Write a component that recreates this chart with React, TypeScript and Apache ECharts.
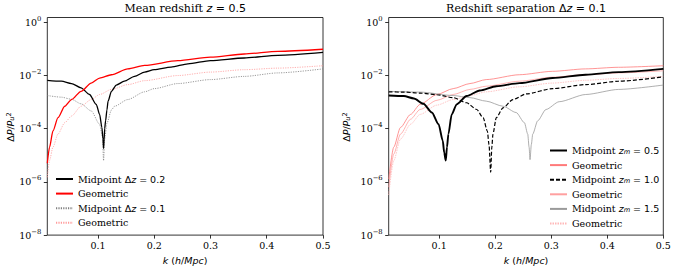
import React, { useEffect, useRef } from "react";
import * as echarts from "echarts";

// ---------- axis ticks ----------
const xTickValues = [0.1, 0.2, 0.3, 0.4, 0.5];
const yTickValues = [1e-8, 1e-6, 1e-4, 1e-2, 1];

// ---------- left panel: mean redshift z = 0.5 ----------
const kMid02 = [0.01, 0.035, 0.053, 0.07, 0.085, 0.097, 0.103, 0.107, 0.109, 0.11, 0.111, 0.112, 0.1136, 0.116, 0.118, 0.124, 0.1326, 0.147, 0.165, 0.183, 0.2, 0.23, 0.26, 0.3, 0.36, 0.42, 0.5];
const pMid02 = [6.5e-3, 6.0e-3, 4.9e-3, 3.4e-3, 1.9e-3, 8.1e-4, 3.4e-4, 1.1e-4, 4.0e-5, 1.8e-5, 4.0e-5, 1.0e-4, 1.95e-4, 5.0e-4, 1.07e-3, 2.5e-3, 4.3e-3, 6.0e-3, 9.1e-3, 1.32e-2, 1.62e-2, 2.04e-2, 2.7e-2, 3.55e-2, 4.47e-2, 5.6e-2, 7.2e-2];

const kGeo02 = [0.01, 0.014, 0.02, 0.029, 0.041, 0.053, 0.07, 0.088, 0.103, 0.124, 0.153, 0.183, 0.242, 0.3, 0.36, 0.42, 0.5];
const pGeo02 = [5.0e-6, 2.0e-5, 8.1e-5, 2.57e-4, 6.9e-4, 1.23e-3, 2.5e-3, 5.1e-3, 7.9e-3, 1.05e-2, 1.74e-2, 2.34e-2, 3.55e-2, 4.8e-2, 6.3e-2, 7.9e-2, 9.5e-2];

const kMid01 = [0.01, 0.035, 0.053, 0.07, 0.088, 0.103, 0.108, 0.11, 0.112, 0.116, 0.124, 0.1296, 0.153, 0.183, 0.2, 0.242, 0.3, 0.36, 0.42, 0.5];
const pMid01 = [1.74e-3, 1.51e-3, 1.26e-3, 8.5e-4, 4.6e-4, 1.45e-4, 5.0e-5, 6.3e-6, 4.0e-5, 1.6e-4, 5.0e-4, 6.9e-4, 1.23e-3, 2.4e-3, 3.16e-3, 4.9e-3, 6.9e-3, 9.1e-3, 1.23e-2, 1.74e-2];

const kGeo01 = [0.01, 0.014, 0.02, 0.029, 0.041, 0.053, 0.07, 0.088, 0.103, 0.124, 0.153, 0.183, 0.242, 0.3, 0.36, 0.42, 0.5];
const pGeo01 = [1.48e-6, 6.3e-6, 2.0e-5, 6.2e-5, 1.66e-4, 2.95e-4, 6.9e-4, 1.23e-3, 1.9e-3, 2.95e-3, 4.47e-3, 6.3e-3, 9.8e-3, 1.32e-2, 1.62e-2, 1.86e-2, 2.29e-2];

// ---------- right panel: redshift separation dz = 0.1 ----------
const kMid05 = [0.01, 0.037, 0.055, 0.072, 0.087, 0.099, 0.1065, 0.109, 0.1118, 0.114, 0.1165, 0.1224, 0.1313, 0.149, 0.1726, 0.202, 0.2434, 0.3024, 0.3614, 0.4204, 0.5];
const pMid05 = [1.74e-3, 1.66e-3, 1.35e-3, 8.5e-4, 4.0e-4, 1.45e-4, 3.5e-5, 1.26e-5, 6.3e-6, 2.0e-5, 6.2e-5, 3.4e-4, 8.1e-4, 1.66e-3, 2.7e-3, 3.9e-3, 5.1e-3, 7.9e-3, 1.05e-2, 1.32e-2, 1.74e-2];

const kMid10 = [0.01, 0.037, 0.066, 0.096, 0.125, 0.149, 0.167, 0.1785, 0.186, 0.189, 0.192, 0.194, 0.196, 0.202, 0.214, 0.2316, 0.2552, 0.3024, 0.3614, 0.4204, 0.5];
const pMid10 = [2.4e-3, 2.34e-3, 2.14e-3, 1.86e-3, 1.45e-3, 9.3e-4, 5.2e-4, 2.57e-4, 8.1e-5, 2.5e-5, 2.3e-6, 2.0e-5, 6.2e-5, 2.57e-4, 6.0e-4, 1.23e-3, 2.0e-3, 3.16e-3, 4.47e-3, 6.0e-3, 8.7e-3];

const kMid15 = [0.01, 0.066, 0.125, 0.155, 0.184, 0.214, 0.2375, 0.2522, 0.2581, 0.2605, 0.2622, 0.2645, 0.267, 0.2758, 0.2906, 0.3142, 0.3614, 0.4204, 0.5];
const pMid15 = [2.5e-3, 2.34e-3, 1.74e-3, 1.45e-3, 1.07e-3, 6.9e-4, 4.0e-4, 1.66e-4, 6.2e-5, 2.0e-5, 6.8e-6, 2.5e-5, 6.2e-5, 1.95e-4, 5.2e-4, 1.02e-3, 1.9e-3, 2.95e-3, 4.3e-3];

const kGeoR = [0.01, 0.019, 0.031, 0.049, 0.066, 0.096, 0.125, 0.155, 0.184, 0.243, 0.302, 0.361, 0.42, 0.5];
const pGeo05 = [1.26e-6, 2.0e-5, 1.1e-4, 3.4e-4, 8.1e-4, 1.9e-3, 3.16e-3, 4.9e-3, 6.9e-3, 1.05e-2, 1.41e-2, 1.74e-2, 2.0e-2, 2.29e-2];
const pGeo10 = [6.3e-7, 1.1e-5, 6.2e-5, 2.24e-4, 5.2e-4, 1.15e-3, 1.9e-3, 2.95e-3, 3.9e-3, 6.0e-3, 8.5e-3, 1.05e-2, 1.23e-2, 1.48e-2];
const pGeo15 = [3.2e-7, 6.3e-6, 4.0e-5, 1.45e-4, 3.4e-4, 7.6e-4, 1.23e-3, 1.74e-3, 2.4e-3, 3.7e-3, 5.1e-3, 6.5e-3, 7.6e-3, 9.1e-3];

// ---------- texts ----------
const titleLeft = "{t|Mean redshift }{i|z}{m| = 0.5}";
const titleRight = "{t|Redshift separation }{m|Δ}{i|z}{m| = 0.1}";
const xName = "{i|k}{m| (}{i|h}{m|/}{i|Mpc}{m|)}";
const yName = "{m|Δ}{i|P}{m|/}{i|P}{sub|u}{sup|2}";
const legendLabels: Record<string, string> = {
  mid02: "{t|Midpoint }{m|Δ}{i|z}{m| = 0.2}",
  geo02: "{t|Geometric}",
  mid01: "{t|Midpoint }{m|Δ}{i|z}{m| = 0.1}",
  geo01: "{t|Geometric}",
  mid05: "{t|Midpoint }{i|z}{sub|m}{m| = 0.5}",
  geo05: "{t|Geometric}",
  mid10: "{t|Midpoint }{i|z}{sub|m}{m| = 1.0}",
  geo10: "{t|Geometric}",
  mid15: "{t|Midpoint }{i|z}{sub|m}{m| = 1.5}",
  geo15: "{t|Geometric}",
};

const SERIF = "DejaVu Serif";
const SANS = "DejaVu Sans";

function richSet(size: number) {
  return {
    t: { fontFamily: SERIF, fontSize: size, color: "#000" },
    m: { fontFamily: SANS, fontSize: size, color: "#000" },
    i: { fontFamily: SANS, fontSize: size, fontStyle: "italic", color: "#000" },
    sub: { fontFamily: SANS, fontSize: size * 0.7, fontStyle: "italic", color: "#000", verticalAlign: "bottom", lineHeight: 8 },
    sup: { fontFamily: SANS, fontSize: size * 0.7, color: "#000", verticalAlign: "top", lineHeight: 6 },
  };
}

function pairs(k: number[], p: number[]) {
  return k.map((v, i) => [v, p[i]]);
}

function line(name: string, idx: number, k: number[], p: number[], ls: any, z = 2) {
  return {
    type: "line",
    name,
    xAxisIndex: idx,
    yAxisIndex: idx,
    data: pairs(k, p),
    symbol: "none",
    showSymbol: false,
    smooth: 0.25,
    smoothMonotone: "x",
    clip: true,
    z,
    lineStyle: ls,
    itemStyle: { color: ls.color },
  };
}

function xAxis(idx: number) {
  return {
    type: "value",
    gridIndex: idx,
    min: 0.01,
    max: 0.5,
    name: xName,
    nameLocation: "middle",
    nameGap: 17,
    nameTextStyle: { rich: richSet(9.5) },
    axisLine: { show: false },
    axisTick: { show: true, length: 3.5, lineStyle: { color: "#000", width: 0.8 }, customValues: xTickValues },
    axisLabel: {
      customValues: xTickValues,
      fontFamily: SERIF,
      fontSize: 9.5,
      color: "#000",
      margin: 5,
      formatter: (v: number) => v.toFixed(1),
    },
    splitLine: { show: false },
  };
}

function yAxis(idx: number) {
  return {
    type: "log",
    logBase: 10,
    gridIndex: idx,
    min: 1e-8,
    max: 1.48,
    axisLine: { show: false },
    axisTick: { show: true, length: 3.5, lineStyle: { color: "#000", width: 0.8 }, customValues: yTickValues },
    axisLabel: {
      customValues: yTickValues,
      margin: 6,
      formatter: (v: number) => {
        const e = Math.round(Math.log10(v));
        return "{b|10}{s|" + (e < 0 ? "−" + -e : String(e)) + "}";
      },
      rich: {
        b: { fontFamily: SERIF, fontSize: 9.5, color: "#000", lineHeight: 14 },
        s: { fontFamily: SERIF, fontSize: 6.8, color: "#000", verticalAlign: "top", lineHeight: 6 },
      },
    },
    splitLine: { show: false },
  };
}

function legend(names: string[], left: number, top: number) {
  return {
    data: names,
    orient: "vertical",
    left,
    top,
    padding: 0,
    itemWidth: 17,
    itemHeight: 10,
    itemGap: 4.6,
    selectedMode: false,
    itemStyle: { opacity: 0 },
    formatter: (n: string) => legendLabels[n],
    textStyle: { fontFamily: SERIF, fontSize: 9.5, color: "#000", rich: richSet(9.5) },
  };
}

export default function App() {
  const ref = useRef<HTMLDivElement>(null);
  useEffect(() => {
    if (!ref.current) return;
    const chart = echarts.init(ref.current, undefined, { renderer: "svg" });
    const option: any = {
      animation: false,
      backgroundColor: "#fff",
      grid: [
        { left: 47.3, top: 17.5, width: 275.7, height: 219.2, show: true, borderColor: "#000", borderWidth: 0.8, backgroundColor: "transparent" },
        { left: 388.7, top: 17.5, width: 274.6, height: 219.2, show: true, borderColor: "#000", borderWidth: 0.8, backgroundColor: "transparent" },
      ],
      xAxis: [xAxis(0), xAxis(1)],
      yAxis: [yAxis(0), yAxis(1)],
      legend: [
        legend(["mid02", "geo02", "mid01", "geo01"], 55, 174),
        legend(["mid05", "geo05", "mid10", "geo10", "mid15", "geo15"], 549, 145.5),
      ],
      graphic: [
        { type: "text", x: 185.2, y: 8, style: { text: titleLeft, rich: richSet(11), align: "center", verticalAlign: "middle" } },
        { type: "text", x: 526, y: 8, style: { text: titleRight, rich: richSet(11), align: "center", verticalAlign: "middle" } },
        { type: "text", x: 10.5, y: 127, rotation: Math.PI / 2, style: { text: yName, rich: richSet(9.5), align: "center", verticalAlign: "middle" } },
        { type: "text", x: 346, y: 127, rotation: Math.PI / 2, style: { text: yName, rich: richSet(9.5), align: "center", verticalAlign: "middle" } },
      ],
      series: [
        line("mid02", 0, kMid02, pMid02, { color: "#000", width: 1.3, type: "solid" }, 4),
        line("geo02", 0, kGeo02, pGeo02, { color: "#ff0000", width: 1.3, type: "solid" }, 4),
        line("mid01", 0, kMid01, pMid01, { color: "#808080", width: 0.8, type: [1.2, 1.2] }, 3),
        line("geo01", 0, kGeo01, pGeo01, { color: "#ff9a9a", width: 0.8, type: [1.2, 1.2] }, 3),
        line("geo05", 1, kGeoR, pGeo05, { color: "#ff7a7a", width: 0.8, type: "solid" }, 2),
        line("geo10", 1, kGeoR, pGeo10, { color: "#ffa0a0", width: 0.8, type: "solid" }, 2),
        line("geo15", 1, kGeoR, pGeo15, { color: "#ffb8b8", width: 0.8, type: [1.5, 1] }, 2),
        line("mid15", 1, kMid15, pMid15, { color: "#9a9a9a", width: 0.8, type: "solid" }, 3),
        line("mid10", 1, kMid10, pMid10, { color: "#000", width: 1.2, type: [4, 2] }, 4),
        line("mid05", 1, kMid05, pMid05, { color: "#000", width: 1.9, type: "solid" }, 5),
      ],
    };
    chart.setOption(option);
    return () => chart.dispose();
  }, []);
  return <div ref={ref} style={{ position: "absolute", left: 0, top: 0, width: 674, height: 270 }} />;
}
